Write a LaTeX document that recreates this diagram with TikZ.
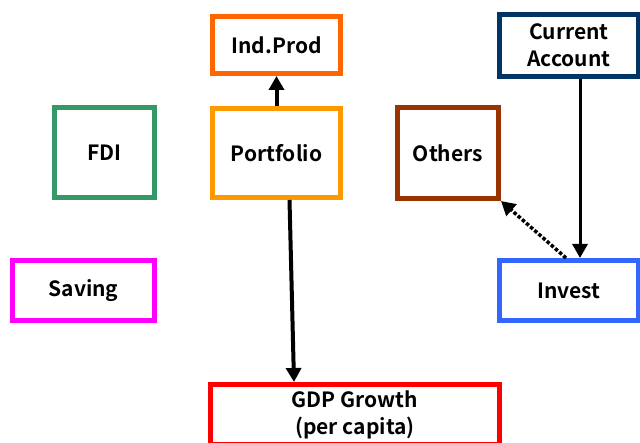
\documentclass[tikz,border=0pt]{standalone}
\usepackage{fontspec}
\setmainfont{Noto Sans CJK JP}[BoldFont={Noto Sans CJK JP Bold}]
\usetikzlibrary{arrows.meta}

\definecolor{fdigreen}{RGB}{52,153,102}
\definecolor{portorange}{RGB}{255,153,0}
\definecolor{indorange}{RGB}{255,102,0}
\definecolor{othbrown}{RGB}{153,51,0}
\definecolor{accnavy}{RGB}{0,51,102}
\definecolor{invblue}{RGB}{51,102,255}
\definecolor{savmagenta}{RGB}{255,0,255}
\definecolor{gdpred}{RGB}{255,0,0}

\begin{document}
\begin{tikzpicture}[
    x=1pt, y=-1pt,
    var box/.style={rectangle, draw, line width=5pt, fill=white, inner sep=2pt, align=center, font=\fontsize{21}{27}\selectfont\bfseries},
    main arrow/.style={line width=4pt, -{Triangle[length=14pt, width=15pt]}},
    thin arrow/.style={line width=3pt, -{Triangle[length=14pt, width=15pt]}},
    dot arrow/.style={line width=3.5pt, dotted, -{Triangle[length=14pt, width=15pt]}}
]
\clip (0,0) rectangle (640,443);
\fill[white] (0,0) rectangle (640,443);

% variables
\node[var box, draw=indorange,  minimum width=128pt, minimum height=57pt] (IndProd)   at (276.5, 45)   {Ind.Prod};
\node[var box, draw=portorange, minimum width=128pt, minimum height=89pt] (Portfolio) at (276.5, 153)  {Portfolio};
\node[var box, draw=fdigreen,   minimum width=100pt, minimum height=90pt] (FDI)       at (104.5, 152.5){FDI};
\node[var box, draw=othbrown,   minimum width=101pt, minimum height=91pt] (Others)    at (448, 153)    {Others};
\node[var box, draw=accnavy,    minimum width=139pt, minimum height=62pt] (CurAcc)    at (569, 45.5)   {Current\\Account};
\node[var box, draw=invblue,    minimum width=139pt, minimum height=60pt] (Invest)    at (569, 290.5)  {Invest};
\node[var box, draw=savmagenta, minimum width=142pt, minimum height=60pt] (Saving)    at (83.5, 290.5) {Saving};
\node[var box, draw=gdpred,     minimum width=289pt, minimum height=60pt] (GDP)       at (355, 414.5)  {GDP Growth\\(per capita)};

% links
\draw[main arrow] (Portfolio.north) -- (IndProd.south);
\draw[main arrow] ([xshift=13pt]Portfolio.south) -- ([xshift=-61pt]GDP.north);
\draw[thin arrow] ([xshift=11pt]CurAcc.south) -- ([xshift=11pt]Invest.north);
\draw[dot arrow]  ([xshift=-3pt]Invest.north) -- (Others.south east);

\end{tikzpicture}
\end{document}
